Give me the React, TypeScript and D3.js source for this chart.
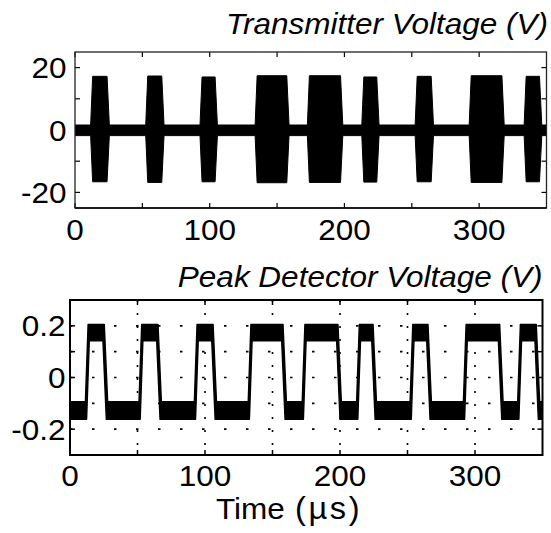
import React from "react";
import * as d3 from "d3";

// ---- data ----
// Transmitter bursts: start / end time (µs) of each RF burst
const burstStart = [11.6, 52.5, 92.8, 133.7, 172.5, 212.9, 252.5, 292.6, 333.4];
const burstEnd = [25.5, 66.1, 105.7, 158.9, 198.8, 225.7, 266.1, 318.6, 346.5];
const burstPeak = [17.2, 17.3, 17.0, 17.4, 17.4, 17.0, 17.2, 17.4, 17.2];
const burstTrough = [-16.6, -16.8, -16.6, -16.9, -16.8, -16.7, -16.6, -16.8, -16.6];
const txNoiseHigh = 1.6;
const txNoiseLow = -1.8;

// Peak detector: rise / fall start times (µs)
const pdRise = [11.4, 51.1, 92.1, 132.0, 172.0, 212.3, 251.9, 291.4, 331.6];
const pdFall = [24.4, 64.2, 105.0, 156.8, 197.5, 223.5, 264.2, 317.3, 344.4];
const pdHighUpper = 0.205;
const pdHighLower = 0.142;
const pdLowUpper = -0.094;
const pdLowLower = -0.162;

const xDomain = [0, 350];
const txDomain = [-25, 25];
const pdDomain = [-0.3, 0.3];
const xTicks = [0, 50, 100, 150, 200, 250, 300];
const xTickLabels = [0, 100, 200, 300];
const txTicks = [-20, -10, 0, 10, 20];
const txTickLabels = [-20, 0, 20];
const pdTicks = [-0.2, -0.1, 0, 0.1, 0.2];
const pdTickLabels = [-0.2, 0, 0.2];

const FONT = "'Liberation Sans', Arial, Helvetica, sans-serif";
const SX = 1.05;

function T({ x, y, anchor = "middle", size = 30, italic = false, children, spacing }: any) {
  return (
    <text
      transform={`translate(${x},${y}) scale(${SX},1)`}
      textAnchor={anchor}
      fontSize={size}
      fontFamily={FONT}
      fontStyle={italic ? "italic" : "normal"}
      letterSpacing={spacing}
      fill="#000"
    >
      {children}
    </text>
  );
}

export default function App() {
  const xTop = d3.scaleLinear().domain(xDomain).range([75, 546.5]);
  const yTop = d3.scaleLinear().domain(txDomain).range([208, 52]);
  const xBot = d3.scaleLinear().domain(xDomain).range([70, 542.5]);
  const yBot = d3.scaleLinear().domain(pdDomain).range([455, 300]);

  // transmitter envelope
  type P = { t: number; lo: number; hi: number };
  const env: P[] = [{ t: 0, lo: txNoiseLow, hi: txNoiseHigh }];
  burstStart.forEach((s, i) => {
    const e = burstEnd[i];
    env.push({ t: s, lo: txNoiseLow, hi: txNoiseHigh });
    env.push({ t: s + 1.5, lo: burstTrough[i], hi: burstPeak[i] });
    env.push({ t: e - 1.7, lo: burstTrough[i], hi: burstPeak[i] });
    env.push({ t: e, lo: txNoiseLow, hi: txNoiseHigh });
  });
  env.push({ t: 350, lo: txNoiseLow, hi: txNoiseHigh });
  const txArea = d3
    .area<P>()
    .x((d) => xTop(d.t))
    .y0((d) => yTop(d.lo))
    .y1((d) => yTop(d.hi))(env) as string;

  // peak detector band polygon: upper edge forward, lower edge backward
  const upper: [number, number][] = [[0, pdLowUpper]];
  const lower: [number, number][] = [[0, pdLowLower]];
  pdRise.forEach((r, i) => {
    const f = pdFall[i];
    upper.push([r, pdLowUpper], [r + 2.0, pdHighUpper], [f + 1.0, pdHighUpper], [f + 3.5, pdLowUpper]);
    lower.push([r + 0.9, pdLowLower], [r + 2.9, pdHighLower], [f, pdHighLower], [f + 2.5, pdLowLower]);
  });
  upper.push([350, pdLowUpper]);
  lower.push([350, pdLowLower]);
  const poly = [...upper, ...lower.slice().reverse()];
  const pdPath =
    (d3
      .line<[number, number]>()
      .x((d) => xBot(Math.min(d[0], 350)))
      .y((d) => yBot(d[1]))(poly) as string) + "Z";

  const tickLen = 5;

  return (
    <svg
      width={551}
      height={533}
      style={{ position: "absolute", left: 0, top: 0, background: "#fff" }}
    >
      <rect width={551} height={533} fill="#fff" />

      {/* ---------- TOP PANEL ---------- */}
      <T x={548} y={34} anchor="end" italic size={30}>
        Transmitter Voltage (V)
      </T>
      <defs>
        <clipPath id="clipTop">
          <rect x={75} y={52} width={471.5} height={156} />
        </clipPath>
        <clipPath id="clipBot">
          <rect x={70} y={300} width={472.5} height={155} />
        </clipPath>
      </defs>
      <path d={txArea} fill="#000" stroke="#000" strokeWidth={1} clipPath="url(#clipTop)" />
      {xTicks.map((t) => (
        <g key={"xt" + t}>
          <line x1={xTop(t)} x2={xTop(t)} y1={208} y2={208 - tickLen} stroke="#000" strokeWidth={1.2} />
          <line x1={xTop(t)} x2={xTop(t)} y1={52} y2={52 + tickLen} stroke="#000" strokeWidth={1.2} />
        </g>
      ))}
      {txTicks.map((v) => (
        <g key={"yt" + v}>
          <line x1={75} x2={75 + tickLen} y1={yTop(v)} y2={yTop(v)} stroke="#000" strokeWidth={1.2} />
          <line x1={546.5} x2={546.5 - tickLen} y1={yTop(v)} y2={yTop(v)} stroke="#000" strokeWidth={1.2} />
        </g>
      ))}
      <rect x={75} y={52} width={471.5} height={156} fill="none" stroke="#222" strokeWidth={1.3} />
      <line x1={75} x2={546.5} y1={208} y2={208} stroke="#000" strokeWidth={1.6} />
      {xTickLabels.map((t) => (
        <T key={"xl" + t} x={xTop(t)} y={240}>
          {String(t)}
        </T>
      ))}
      {txTickLabels.map((v) => (
        <T key={"yl" + v} x={66.5} y={yTop(v) + 10.5} anchor="end">
          {String(v)}
        </T>
      ))}

      {/* ---------- BOTTOM PANEL ---------- */}
      <T x={542.5} y={286.5} anchor="end" italic size={30}>
        Peak Detector Voltage (V)
      </T>
      {pdTicks.map((v) => (
        <line
          key={"gh" + v}
          x1={70}
          x2={542.5}
          y1={yBot(v)}
          y2={yBot(v)}
          stroke="#000"
          strokeWidth={1.6}
          strokeDasharray="2.5 19.5"
        />
      ))}
      {xTicks.slice(1).map((t) => (
        <line
          key={"gv" + t}
          x1={xBot(t)}
          x2={xBot(t)}
          y1={300}
          y2={455}
          stroke="#000"
          strokeWidth={1.6}
          strokeDasharray="2 11"
        />
      ))}
      <path d={pdPath} fill="#000" stroke="#000" strokeWidth={1.4} strokeLinejoin="round" clipPath="url(#clipBot)" />
      {xTicks.map((t) => (
        <g key={"bxt" + t}>
          <line x1={xBot(t)} x2={xBot(t)} y1={455} y2={455 - tickLen} stroke="#000" strokeWidth={1.5} />
          <line x1={xBot(t)} x2={xBot(t)} y1={300} y2={300 + tickLen} stroke="#000" strokeWidth={1.5} />
        </g>
      ))}
      {pdTicks.map((v) => (
        <g key={"byt" + v}>
          <line x1={70} x2={70 + tickLen} y1={yBot(v)} y2={yBot(v)} stroke="#000" strokeWidth={1.5} />
          <line x1={542.5} x2={542.5 - tickLen} y1={yBot(v)} y2={yBot(v)} stroke="#000" strokeWidth={1.5} />
        </g>
      ))}
      <rect x={70} y={300} width={472.5} height={155} fill="none" stroke="#000" strokeWidth={2} />
      {xTickLabels.map((t) => (
        <T key={"bxl" + t} x={xBot(t)} y={486}>
          {String(t)}
        </T>
      ))}
      {pdTickLabels.map((v) => (
        <T key={"byl" + v} x={65.5} y={yBot(v) + 10.5} anchor="end">
          {String(v)}
        </T>
      ))}
      <T x={216} y={519} anchor="start">
        Time
      </T>
      <T x={295} y={519} anchor="start" size={31} spacing={2.5}>
        (µs)
      </T>
    </svg>
  );
}
